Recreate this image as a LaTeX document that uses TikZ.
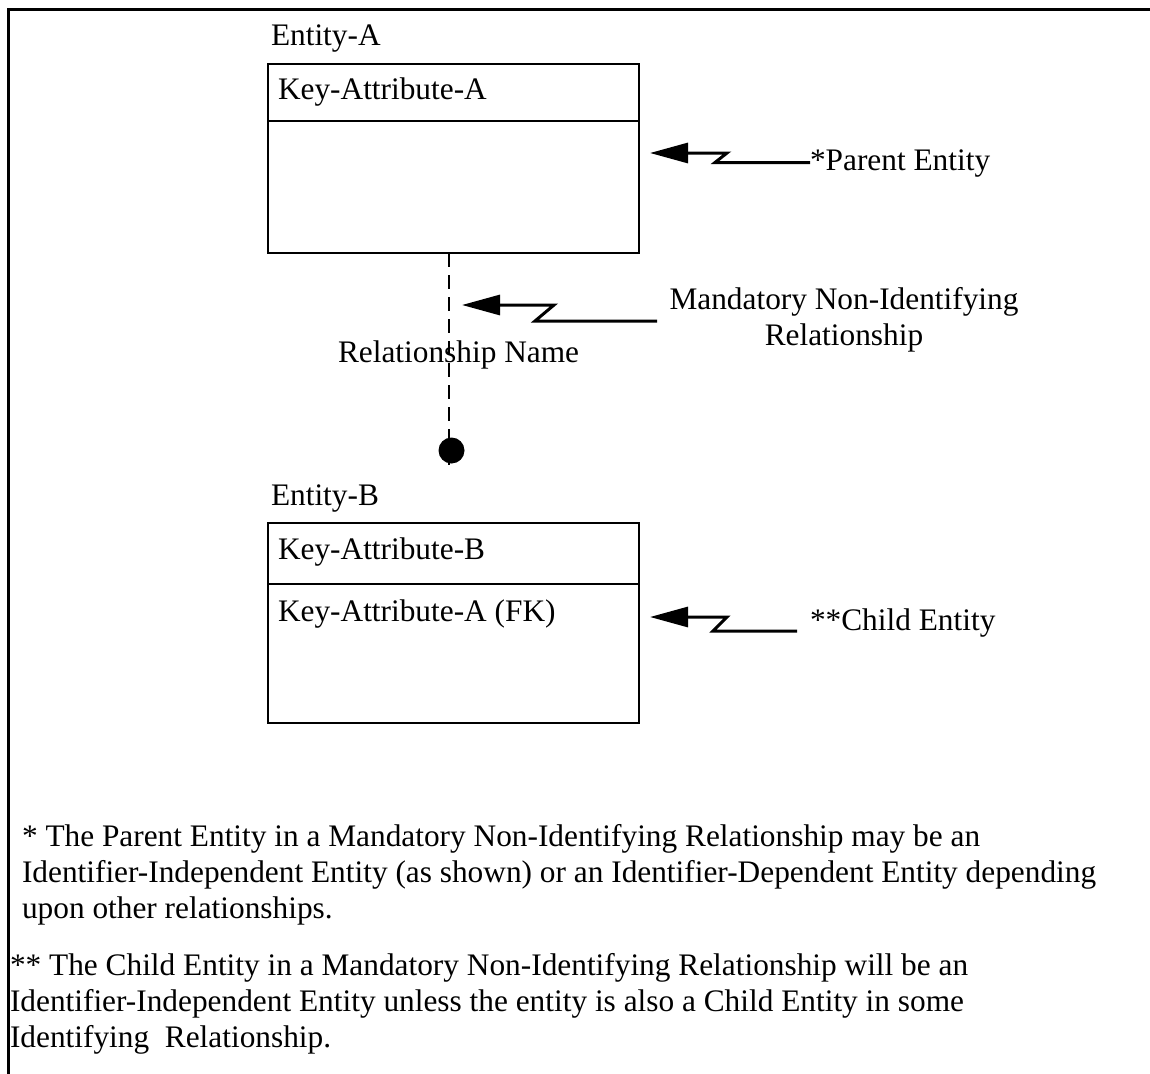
\documentclass[tikz,border=0pt]{standalone}
\usepackage{fontspec}
\setmainfont{Liberation Serif}
\usetikzlibrary{arrows.meta,fit}
\begin{document}
\begin{tikzpicture}[x=0.75pt,y=-0.75pt,
  every node/.style={inner sep=0pt,outer sep=0pt,font=\fontsize{23.5pt}{27pt}\selectfont},
  txt/.style={anchor=base west},
  ebox/.style={draw,line width=1.5pt,inner sep=0pt},
  divider/.style={line width=1.5pt},
  frame/.style={line width=2.25pt},
  zarrow/.style={line width=2.25pt,-{Triangle[length=28.5pt,width=15pt]}},
  rel/.style={line width=1.9pt,dash pattern=on 10.5pt off 6pt},
  enddot/.style={circle,fill=black,minimum size=19.5pt}
]
\useasboundingbox (0,0) rectangle (1150,1074);

% outer frame (top and left edges)
\draw[frame] (8.5,1074) -- (8.5,9.5) -- (1150,9.5);

% Entity-A
\node[txt] (titleA) at (271,46) {Entity-A};
\node[ebox,fit={(268,64) (639,253)}] (entA) {};
\coordinate (divA) at (0,121);
\draw[divider] (entA.west |- divA) -- (entA.east |- divA);
\node[txt] (keyA) at (278,99) {Key-Attribute-A};

% Entity-B
\node[txt] (titleB) at (271,505) {Entity-B};
\node[ebox,fit={(268,523) (639,723)}] (entB) {};
\coordinate (divB) at (0,584);
\draw[divider] (entB.west |- divB) -- (entB.east |- divB);
\node[txt] (keyB) at (278,559) {Key-Attribute-B};
\node[txt] (fkB) at (278,621) {Key-Attribute-A (FK)};

% relationship line with the dot at the child end
\coordinate (relend) at (449,466);
\draw[rel] (relend |- entA.south) -- (relend);
\node[enddot] (dot) at (451.5,450.5) {};
\node[txt] (relname) at (338,362) {Relationship Name};

% callout labels
\node[txt] (plabel) at (810,171) {*Parent Entity};
\node[anchor=base,align=center] (mlabel) at (844,345) {Mandatory Non-Identifying\\Relationship};
\node[txt] (clabel) at (810,630) {**Child Entity};

% zig-zag callout arrows
\coordinate (ptail) at (810,162.5);
\coordinate (ptip) at (650,153);
\draw[zarrow] (ptail) -- ++(-95,0) -- ++(12,-9.5) -- (ptip);

\coordinate (mtail) at (657,321);
\coordinate (mtip) at (462,305);
\draw[zarrow] (mtail) -- ++(-122,0) -- ++(19,-16) -- (mtip);

\coordinate (ctail) at (797,631);
\coordinate (ctip) at (650,617);
\draw[zarrow] (ctail) -- ++(-84,0) -- ++(14,-14) -- (ctip);

% footnotes
\node[txt,align=left] (note1) at (22,918)
  {* The Parent Entity in a Mandatory Non-Identifying Relationship may be an\\
   Identifier-Independent Entity (as shown) or an Identifier-Dependent Entity depending\\
   upon other relationships.};
\node[txt,align=left] (note2) at (10,1047)
  {** The Child Entity in a Mandatory Non-Identifying Relationship will be an\\
   Identifier-Independent Entity unless the entity is also a Child Entity in some\\
   Identifying\ \ Relationship.};
\end{tikzpicture}
\end{document}
